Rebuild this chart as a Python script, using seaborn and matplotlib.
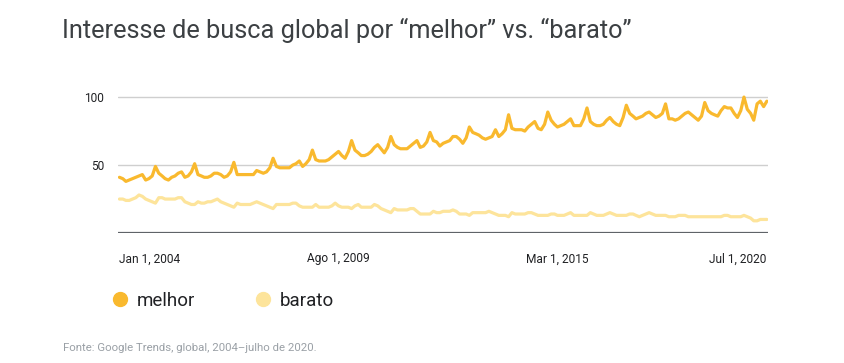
import pandas as pd
import matplotlib.pyplot as plt
from matplotlib.lines import Line2D
import seaborn as sns

# Monthly Google Trends index, Jan 2004 - Jul 2020
melhor = [
    41, 40, 38, 39, 40, 41, 42, 43, 39, 40, 42, 49,   # 2004
    44, 42, 40, 39, 41, 42, 44, 45, 41, 42, 45, 51,   # 2005
    43, 42, 41, 41, 42, 44, 44, 43, 41, 42, 45, 52,   # 2006
    43, 43, 43, 43, 43, 43, 46, 45, 44, 45, 48, 55,   # 2007
    49, 48, 48, 48, 48, 50, 51, 53, 49, 51, 54, 61,   # 2008
    54, 53, 53, 53, 54, 56, 58, 60, 57, 55, 60, 68,   # 2009
    61, 59, 57, 57, 58, 60, 63, 65, 62, 59, 63, 71,   # 2010
    65, 63, 62, 62, 62, 64, 66, 68, 63, 64, 67, 74,   # 2011
    68, 67, 64, 66, 67, 68, 71, 71, 69, 66, 70, 78,   # 2012
    74, 73, 72, 70, 69, 70, 71, 76, 71, 73, 76, 87,   # 2013
    77, 76, 76, 76, 75, 78, 80, 82, 77, 76, 80, 89,   # 2014
    83, 80, 78, 79, 80, 82, 84, 79, 79, 79, 84, 92,   # 2015
    82, 80, 79, 79, 80, 83, 85, 82, 80, 79, 85, 94,   # 2016
    88, 86, 84, 85, 86, 88, 89, 87, 85, 86, 88, 95,   # 2017
    84, 84, 83, 84, 86, 88, 89, 87, 85, 83, 86, 96,   # 2018
    90, 88, 87, 86, 90, 93, 92, 92, 88, 85, 90, 100,  # 2019
    91, 88, 83, 95, 97, 93, 97,                       # 2020
]
barato = [
    25, 25, 24, 24, 25, 26, 28, 27, 25, 24, 23, 22,
    26, 26, 25, 25, 25, 25, 26, 26, 23, 22, 21, 21,
    23, 22, 22, 23, 23, 24, 25, 23, 22, 21, 20, 19,
    22, 21, 21, 21, 21, 22, 23, 22, 21, 20, 19, 18,
    21, 21, 21, 21, 21, 22, 22, 20, 19, 19, 19, 19,
    21, 19, 19, 19, 19, 20, 22, 20, 19, 19, 19, 18,
    20, 21, 19, 19, 19, 19, 21, 20, 18, 17, 16, 15,
    18, 17, 17, 17, 17, 18, 18, 16, 14, 14, 14, 14,
    16, 15, 15, 16, 16, 16, 17, 16, 14, 14, 14, 13,
    15, 15, 15, 15, 15, 16, 15, 14, 13, 13, 13, 12,
    15, 14, 14, 14, 14, 15, 15, 14, 13, 13, 13, 13,
    14, 14, 13, 13, 13, 14, 15, 13, 13, 13, 13, 13,
    15, 14, 13, 13, 13, 14, 15, 14, 13, 13, 13, 13,
    14, 14, 13, 12, 13, 14, 15, 14, 13, 13, 13, 13,
    12, 12, 12, 13, 13, 13, 12, 12, 12, 12, 12, 12,
    12, 12, 12, 12, 12, 13, 13, 12, 12, 12, 12, 13,
    12, 11, 9, 9, 10, 10, 10,
]
months = pd.date_range('2004-01-01', periods=len(melhor), freq='MS')
tick_dates = ['2004-01-01', '2009-08-01', '2015-03-01', '2020-07-01']
tick_labels = ['Jan 1, 2004', 'Ago 1, 2009', 'Mar 1, 2015', 'Jul 1, 2020']

colors = {'melhor': '#F9B92E', 'barato': '#FDE49B'}

df = pd.concat([
    pd.DataFrame({'date': months, 'value': melhor, 'termo': 'melhor'}),
    pd.DataFrame({'date': months, 'value': barato, 'termo': 'barato'}),
])

sns.set_theme(style='white')
plt.rcParams['font.family'] = ['Roboto', 'DejaVu Sans']

fig = plt.figure(figsize=(8.44, 3.63), dpi=100)
ax = fig.add_axes([0.14, 0.358, 0.77, 0.412])

sns.lineplot(data=df, x='date', y='value', hue='termo', palette=colors,
             hue_order=['barato', 'melhor'], linewidth=2.3, legend=False, ax=ax)

ax.set_ylim(0, 110)
ax.set_xlim(pd.Timestamp('2003-12-20'), pd.Timestamp('2020-07-12'))
ax.set_yticks([50, 100])
for y in [50, 100]:
    ax.axhline(y, color='#cfcfcf', linewidth=1, zorder=0)
ax.axhline(0, color='#5f6368', linewidth=1.6, zorder=0)

ax.set_xticks([pd.Timestamp(d) for d in tick_dates])
ax.set_xticklabels(tick_labels)
for lbl, ha in zip(ax.get_xticklabels(), ['left', 'center', 'center', 'right']):
    lbl.set_ha(ha)
ax.tick_params(axis='both', length=0, labelsize=8.6, colors='#202124')
ax.tick_params(axis='x', pad=14)
ax.tick_params(axis='y', pad=10)
ax.set_xlabel('')
ax.set_ylabel('')
sns.despine(ax=ax, left=True, bottom=True)

fig.text(0.074, 0.915, 'Interesse de busca global por \u201cmelhor\u201d vs. \u201cbarato\u201d',
         fontsize=18.3, color='#3c4043', va='center', ha='left')

handles = [Line2D([], [], marker='o', linestyle='', markersize=10,
                  markerfacecolor=colors[k], markeredgecolor=colors[k]) for k in ['melhor', 'barato']]
fig.legend(handles, ['melhor', 'barato'], loc='center left', bbox_to_anchor=(0.131, 0.172),
           ncol=2, frameon=False, fontsize=13.5, handlelength=1, handletextpad=0.4,
           columnspacing=3.1, borderpad=0, borderaxespad=0, labelcolor='#202124')

fig.text(0.075, 0.04, 'Fonte: Google Trends, global, 2004\u2013julho de 2020.',
         fontsize=8.2, color='#9aa0a6', va='center', ha='left')

fig.savefig('out.png', dpi=100)
